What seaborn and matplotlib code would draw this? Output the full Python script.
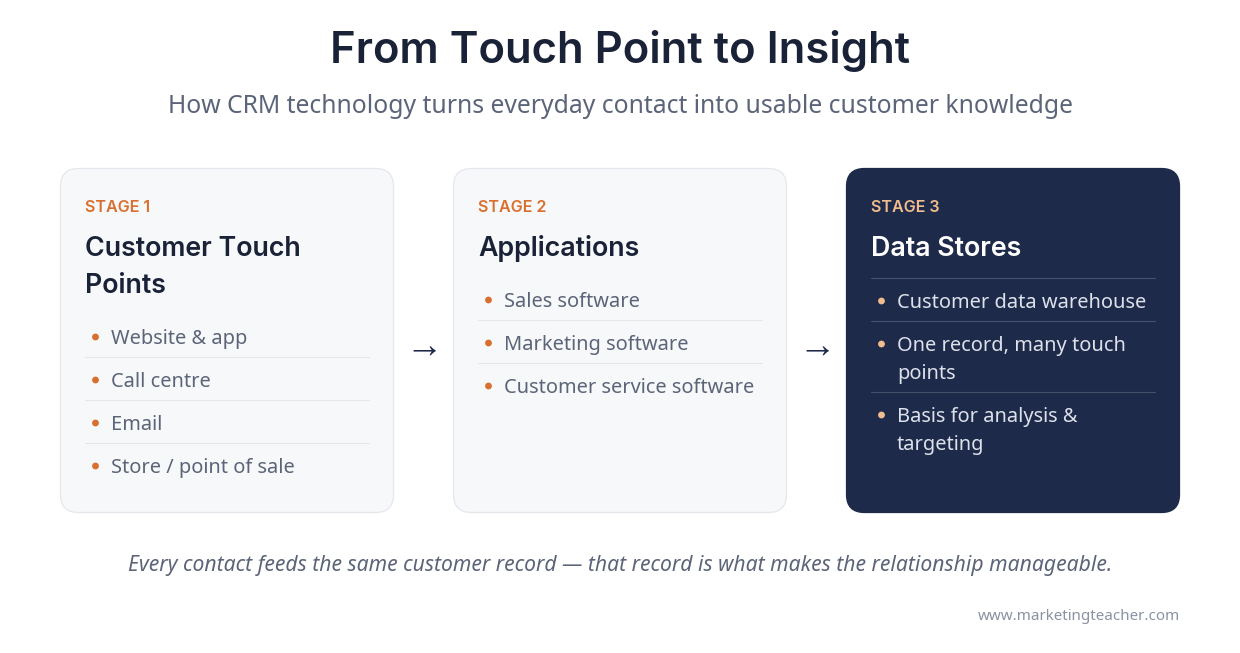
import pandas as pd
import seaborn as sns
import matplotlib.pyplot as plt
from matplotlib.patches import FancyBboxPatch

title = "From Touch Point to Insight"
subtitle = "How CRM technology turns everyday contact into usable customer knowledge"
footnote = "Every contact feeds the same customer record \u2014 that record is what makes the relationship manageable."
credit = "www.marketingteacher.com"

stages = ["STAGE 1", "STAGE 2", "STAGE 3"]
headings = [["Customer Touch", "Points"], ["Applications"], ["Data Stores"]]
items = [
    [["Website & app"], ["Call centre"], ["Email"], ["Store / point of sale"]],
    [["Sales software"], ["Marketing software"], ["Customer service software"]],
    [["Customer data warehouse"], ["One record, many touch", "points"], ["Basis for analysis &", "targeting"]],
]
card_left = [60, 453, 846]
card_width = 334
card_top = 168
card_bottom = 513

sns.set_theme(style="white")
plt.rcParams['font.family'] = ['Open Sans', 'DejaVu Sans']

fig = plt.figure(figsize=(12.4, 6.53), dpi=100)
ax = fig.add_axes([0, 0, 1, 1])
ax.set_xlim(0, 1240)
ax.set_ylim(653, 0)
ax.axis("off")

HEAD = "Inter"
BODY = "Noto Sans"
NAVY = "#1e2a4a"
INK = "#1a2238"
GREY = "#5b6478"

ax.text(620, 63, title, ha="center", va="baseline", fontsize=31.4, fontweight="semibold", family=HEAD, color=INK)
ax.text(620, 113, subtitle, ha="center", va="baseline", fontsize=17.8, family=BODY, color=GREY)

bullets = []
for i, x0 in enumerate(card_left):
    dark = i == 2
    ax.add_patch(FancyBboxPatch((x0 + 0.5, card_top + 0.5), card_width - 1, card_bottom - card_top - 1,
                                boxstyle="round,pad=0,rounding_size=18",
                                fc=NAVY if dark else "#f7f8fa",
                                ec=NAVY if dark else "#e4e7ec", lw=0.9))
    tx = x0 + 25
    ax.text(tx, 211.5, stages[i], va="baseline", fontsize=11.6, fontweight="semibold", family=HEAD,
            color="#f2bd8e" if dark else "#d96f2e")
    y = 256
    for line in headings[i]:
        ax.text(tx, y, line, va="baseline", fontsize=19.3, fontweight="semibold", family=HEAD,
                color="white" if dark else INK)
        y += 37
    y = y - 37 + 51
    if dark:
        y += 1
        ax.plot([tx, tx + 283.5], [y - 30, y - 30], color="#47506b", lw=0.8)
    for j, entry in enumerate(items[i]):
        bullets.append({"x": tx + 10.5, "y": y - 7, "card": "dark" if dark else "light"})
        for k, line in enumerate(entry):
            ax.text(tx + 26, y + 28 * k, line, va="baseline", fontsize=14.4, family=BODY,
                    color="#dde1ea" if dark else GREY)
        y += 28 * (len(entry) - 1)
        if j < len(items[i]) - 1:
            ax.plot([tx, tx + 283.5], [y + 13, y + 13], color="#47506b" if dark else "#e4e7ec", lw=0.8)
        y += 43

# bullets drawn through seaborn
sns.scatterplot(data=pd.DataFrame(bullets), x="x", y="y", hue="card",
                palette={"light": "#d96f2e", "dark": "#f2bd8e"},
                s=24, linewidth=0, legend=False, ax=ax)
ax.set_xlim(0, 1240)
ax.set_ylim(653, 0)
ax.axis("off")

for x in [424, 817]:
    ax.text(x, 347, "\u2192", ha="center", va="center", fontsize=27, family="Liberation Sans", color=NAVY)

ax.text(620, 571, footnote, ha="center", va="baseline", fontsize=15.2, style="italic", family=BODY, color=GREY)
ax.text(1180, 620.5, credit, ha="right", va="baseline", fontsize=10.9, family=BODY, color="#8a92a3")

fig.savefig("out.png", dpi=100)
